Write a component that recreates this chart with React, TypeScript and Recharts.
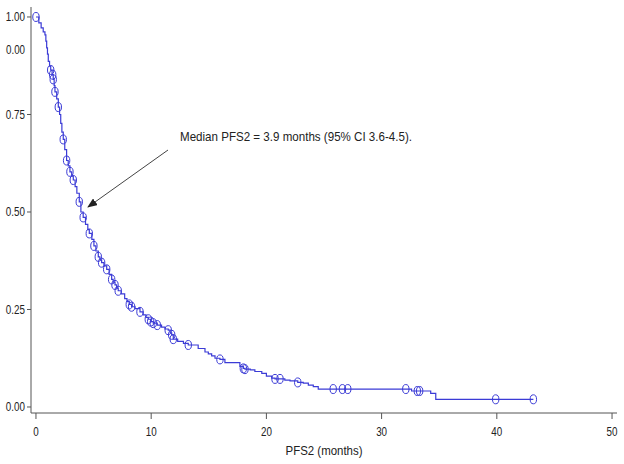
import { ComposedChart, Line, Scatter, XAxis, YAxis } from 'recharts'

// Kaplan-Meier step curve: event times (months) and survival after each drop
const curveT = [
  0, 0.25, 0.45, 0.63, 0.78, 0.86, 0.93, 1.0, 1.07, 1.18, 1.28, 1.4, 1.5, 1.58, 1.65, 1.8, 1.94, 2.05, 2.15,
  2.25, 2.37, 2.5, 2.66, 2.8, 2.95, 3.1, 3.24, 3.4, 3.55, 3.76, 3.9, 4.1, 4.3, 4.5, 4.63, 4.85, 5.03, 5.2,
  5.41, 5.55, 5.7, 5.9, 6.14, 6.35, 6.57, 6.7, 6.86, 7.0, 7.14, 7.4, 7.7, 7.9, 8.1, 8.3, 8.6, 9.03, 9.3,
  9.55, 9.75, 9.96, 10.18, 10.53, 10.9, 11.2, 11.48, 11.65, 11.78, 11.92, 12.3, 12.8, 13.22, 14.08, 14.67,
  14.96, 15.25, 15.54, 15.97, 16.4, 17.7, 18.0, 18.14, 18.6, 19.0, 19.6, 20.0, 20.46, 20.75, 21.6, 22.05,
  22.72, 23.2, 23.64, 24.07, 24.5, 32.6, 34.26, 34.7, 43.17,
]
const curveS = [
  1, 0.985, 0.972, 0.962, 0.954, 0.938, 0.921, 0.905, 0.886, 0.874, 0.864, 0.852, 0.84, 0.824, 0.808, 0.79,
  0.769, 0.75, 0.727, 0.705, 0.686, 0.66, 0.632, 0.618, 0.603, 0.592, 0.582, 0.565, 0.548, 0.526, 0.5, 0.486,
  0.468, 0.455, 0.445, 0.43, 0.413, 0.4, 0.385, 0.377, 0.37, 0.362, 0.353, 0.34, 0.327, 0.32, 0.313, 0.305,
  0.298, 0.29, 0.278, 0.27, 0.263, 0.257, 0.252, 0.244, 0.236, 0.23, 0.225, 0.219, 0.215, 0.21, 0.205, 0.2,
  0.197, 0.19, 0.185, 0.174, 0.168, 0.163, 0.159, 0.15, 0.141, 0.136, 0.131, 0.125, 0.122, 0.114, 0.104,
  0.099, 0.097, 0.095, 0.091, 0.086, 0.079, 0.074, 0.072, 0.069, 0.067, 0.063, 0.061, 0.056, 0.052, 0.046,
  0.041, 0.035, 0.0197, 0.0197,
]

// censored observations
const censorT = [
  0, 1.28, 1.45, 1.5, 1.65, 1.94, 2.37, 2.66, 2.95, 3.24, 3.76, 4.1, 4.63, 5.03, 5.41, 5.7, 6.14, 6.57, 6.86,
  7.14, 8.1, 8.3, 9.03, 9.75, 9.96, 10.18, 10.53, 11.48, 11.78, 11.92, 13.22, 15.97, 18.0, 18.14, 20.75,
  21.18, 22.72, 25.8, 26.6, 27.06, 32.1, 33.1, 33.3, 39.9, 43.17,
]
const censorS = [
  1, 0.864, 0.852, 0.84, 0.808, 0.769, 0.686, 0.632, 0.603, 0.582, 0.526, 0.486, 0.445, 0.413, 0.385, 0.37,
  0.353, 0.327, 0.313, 0.298, 0.263, 0.257, 0.244, 0.225, 0.219, 0.215, 0.21, 0.197, 0.185, 0.174, 0.159,
  0.122, 0.099, 0.097, 0.072, 0.072, 0.063, 0.046, 0.046, 0.046, 0.046, 0.041, 0.041, 0.0197, 0.0197,
]

const xTicks = [0, 10, 20, 30, 40, 50]
const yTicks = [0, 0.25, 0.5, 0.75, 1]

const curve = curveT.map((t, i) => ({ t, s: curveS[i] }))
const censors = censorT.map((t, i) => ({ t, s: censorS[i] }))

const BLUE = '#3b3bd6'
const AXIS = '#555'
const FONT = '"Liberation Sans", Arial, sans-serif'

const XTick = ({ x, y, payload }: any) => (
  <g transform={`translate(${x},${y}) scale(0.82,1)`}>
    <text x={0} y={0} dy="0.71em" textAnchor="middle" fontSize={12} fontFamily={FONT} fill="#222">
      {payload.value}
    </text>
  </g>
)

const YTick = ({ x, y, payload }: any) => (
  <g transform={`translate(${x},${y}) scale(0.82,1)`}>
    <text x={0} y={0} dy="0.355em" textAnchor="end" fontSize={12} fontFamily={FONT} fill="#222">
      {Number(payload.value).toFixed(2)}
    </text>
  </g>
)

const Censor = ({ cx, cy }: any) => (
  <ellipse cx={cx} cy={cy} rx={3.2} ry={4.5} fill="none" stroke={BLUE} strokeWidth={1} />
)

export default function App() {
  return (
    <div style={{ position: 'absolute', left: 0, top: 0, width: 624, height: 464, background: '#fff' }}>
      <ComposedChart width={624} height={464} margin={{ top: 7, right: 7, bottom: 0, left: 0 }}>
        <XAxis
          xAxisId="b"
          dataKey="t"
          type="number"
          domain={[-0.43, 50.43]}
          ticks={xTicks}
          allowDataOverflow
          height={51}
          tickSize={6}
          tickMargin={8}
          stroke={AXIS}
          tick={<XTick />}
        />
        <XAxis xAxisId="top" dataKey="t" type="number" orientation="top" domain={[-0.43, 50.43]} allowDataOverflow height={0} tick={false} tickLine={false} stroke={AXIS} />
        <YAxis
          yAxisId="l"
          type="number"
          domain={[-0.0154, 1.0256]}
          ticks={yTicks}
          allowDataOverflow
          width={31}
          tickSize={4}
          tickMargin={2}
          stroke={AXIS}
          tick={<YTick />}
        />
        <YAxis yAxisId="r" type="number" orientation="right" domain={[-0.0154, 1.0256]} allowDataOverflow width={0} tick={false} tickLine={false} stroke={AXIS} />
        <Line
          xAxisId="b"
          yAxisId="l"
          data={curve}
          dataKey="s"
          type="stepAfter"
          stroke={BLUE}
          strokeWidth={1.2}
          dot={false}
          activeDot={false}
          isAnimationActive={false}
        />
        <Scatter xAxisId="b" yAxisId="l" data={censors} dataKey="s" shape={<Censor />} isAnimationActive={false} />
      </ComposedChart>
      <svg width={624} height={464} style={{ position: 'absolute', left: 0, top: 0, pointerEvents: 'none' }}>
        <defs>
          <marker id="head" markerWidth="10" markerHeight="8" refX="9" refY="4" orient="auto" markerUnits="userSpaceOnUse">
            <path d="M0,0 L10,4 L0,8 Z" fill="#222" />
          </marker>
        </defs>
        <text x={25} y={50} dy="0.355em" textAnchor="end" fontSize={12} fontFamily={FONT} fill="#222" textLength={19} lengthAdjust="spacingAndGlyphs">
          0.00
        </text>
        <line x1={168} y1={150} x2={88} y2={207} stroke="#444" strokeWidth={1} markerEnd="url(#head)" />
        <text x={180} y={141} fontSize={13} fontFamily={FONT} fill="#222" textLength={232} lengthAdjust="spacingAndGlyphs">
          Median PFS2 = 3.9 months (95% CI 3.6-4.5).
        </text>
        <text x={324} y={455} textAnchor="middle" fontSize={13} fontFamily={FONT} fill="#222" textLength={77} lengthAdjust="spacingAndGlyphs">
          PFS2 (months)
        </text>
      </svg>
    </div>
  )
}
